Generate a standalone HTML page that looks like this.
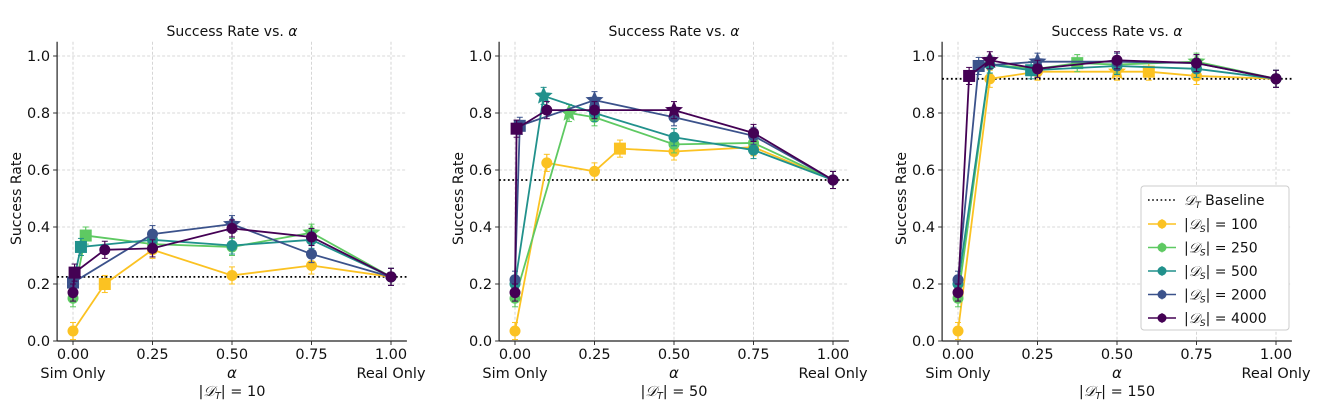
<!DOCTYPE html>
<html><head><meta charset="utf-8"><style>
body{margin:0;background:#fff;width:1324px;height:407px;overflow:hidden}
svg text{font-family:"DejaVu Sans","Liberation Sans",sans-serif;fill:#111}
</style></head><body>
<svg id="c" width="1324" height="407"></svg>
<script>
const seriesNames = ["|D_S|=100","|D_S|=250","|D_S|=500","|D_S|=2000","|D_S|=4000"];
const seriesSizes = ["100","250","500","2000","4000"];
const colors = ["#fbc222","#5ec962","#21918c","#3b528b","#440154"];
const panelTitles = ["10","50","150"];
const baselines = [0.225, 0.565, 0.92];
const xTicks = [0,0.25,0.5,0.75,1];
const yTicks = [0,0.2,0.4,0.6,0.8,1.0];
// panel 1 [x, y, marker]
const p1 = [
 [[0,.035,"o"],[0.1,.20,"s"],[0.25,.32,"o"],[0.5,.23,"o"],[0.75,.265,"o"],[1,.225,"o"]],
 [[0,.15,"o"],[0.04,.37,"s"],[0.25,.34,"o"],[0.5,.33,"o"],[0.75,.38,"*"],[1,.225,"o"]],
 [[0,.20,"o"],[0.025,.33,"s"],[0.25,.355,"o"],[0.5,.335,"o"],[0.75,.355,"o"],[1,.225,"o"]],
 [[0,.205,"s"],[0.25,.375,"o"],[0.5,.41,"*"],[0.75,.305,"o"],[1,.225,"o"]],
 [[0,.17,"o"],[0.005,.24,"s"],[0.1,.32,"o"],[0.25,.325,"o"],[0.5,.395,"o"],[0.75,.365,"o"],[1,.225,"o"]]
];
const p2 = [
 [[0,.035,"o"],[0.1,.625,"o"],[0.25,.595,"o"],[0.33,.675,"s"],[0.5,.665,"o"],[0.75,.68,"o"],[1,.565,"o"]],
 [[0,.15,"o"],[0.17,.80,"*"],[0.25,.785,"o"],[0.5,.69,"o"],[0.75,.695,"o"],[1,.565,"o"]],
 [[0,.20,"o"],[0.09,.86,"*"],[0.25,.80,"o"],[0.5,.715,"o"],[0.75,.67,"o"],[1,.565,"o"]],
 [[0,.215,"o"],[0.015,.755,"s"],[0.25,.845,"*"],[0.5,.785,"o"],[0.75,.72,"o"],[1,.565,"o"]],
 [[0,.17,"o"],[0.005,.745,"s"],[0.1,.81,"o"],[0.25,.81,"o"],[0.5,.81,"*"],[0.75,.73,"o"],[1,.565,"o"]]
];
const p3 = [
 [[0,.035,"o"],[0.1,.92,"o"],[0.25,.945,"o"],[0.5,.945,"*"],[0.6,.945,"s"],[0.75,.93,"o"],[1,.92,"o"]],
 [[0,.15,"o"],[0.1,.97,"o"],[0.25,.955,"o"],[0.375,.975,"s"],[0.5,.97,"o"],[0.75,.98,"*"],[1,.92,"o"]],
 [[0,.20,"o"],[0.1,.97,"o"],[0.23,.95,"s"],[0.5,.965,"o"],[0.75,.955,"o"],[1,.92,"o"]],
 [[0,.215,"o"],[0.065,.965,"s"],[0.25,.98,"*"],[0.5,.98,"o"],[0.75,.975,"o"],[1,.92,"o"]],
 [[0,.17,"o"],[0.035,.93,"s"],[0.1,.985,"*"],[0.25,.955,"o"],[0.5,.985,"o"],[0.75,.975,"o"],[1,.92,"o"]]
];
const panelData = [p1,p2,p3];
const errBar = 0.03;

const NS="http://www.w3.org/2000/svg";
const svg=document.getElementById("c");
function mk(tag,attrs,parent){const e=document.createElementNS(NS,tag);for(const k in attrs)e.setAttribute(k,attrs[k]);(parent||svg).appendChild(e);return e;}
const x0s=[73,515,958];
const XS=318, YS=285, Y0=341;
function starPts(cx,cy,r){let p=[];for(let i=0;i<10;i++){const a=-Math.PI/2+i*Math.PI/5;const rr=i%2?r*0.45:r;p.push((cx+rr*Math.cos(a)).toFixed(1)+","+(cy+rr*Math.sin(a)).toFixed(1));}return p.join(" ");}
function marker(g,t,cx,cy,col){
  let e;
  if(t==="s") e=mk("rect",{x:cx-6,y:cy-6,width:12,height:12,fill:col},g);
  else if(t==="*") e=mk("polygon",{points:starPts(cx,cy,9.5),fill:col},g);
  else e=mk("circle",{cx:cx,cy:cy,r:5.5,fill:col},g);
  
  
}
panelData.forEach((pd,pi)=>{
  const X0=x0s[pi];
  const xs=v=>X0+v*XS, ys=v=>Y0-v*YS;
  const g=mk("g",{});
  
  
  xTicks.forEach(t=>{const l=mk("line",{x1:xs(t),x2:xs(t),y1:ys(1.05),y2:Y0+3,stroke:"#ccc","stroke-dasharray":"3,2","stroke-width":0.8},g);
    
    const tx=mk("text",{x:xs(t),y:359,"text-anchor":"middle","font-size":14.5},g);tx.textContent=t.toFixed(2);
    
    mk("line",{x1:xs(t),x2:xs(t),y1:Y0,y2:Y0+4,stroke:"#333"},g);});
  yTicks.forEach(t=>{const l=mk("line",{x1:xs(-0.05),x2:xs(1.05),y1:ys(t),y2:ys(t),stroke:"#ccc","stroke-dasharray":"3,2","stroke-width":0.8},g);
    
    const tx=mk("text",{x:xs(-0.05)-7,y:ys(t)+5,"text-anchor":"end","font-size":14.5},g);tx.textContent=t.toFixed(1);
    
    mk("line",{x1:xs(-0.05)-4,x2:xs(-0.05),y1:ys(t),y2:ys(t),stroke:"#333"},g);});
  mk("line",{x1:xs(-0.05),x2:xs(-0.05),y1:ys(1.05),y2:Y0,stroke:"#222","stroke-width":1.2},g);
  mk("line",{x1:xs(-0.05),x2:xs(1.05),y1:Y0,y2:Y0,stroke:"#222","stroke-width":1.2},g);
  const bl=mk("line",{x1:xs(-0.05),x2:xs(1.05),y1:ys(baselines[pi]),y2:ys(baselines[pi]),stroke:"#000","stroke-width":1.8,"stroke-dasharray":"1.8,2.6"},g);
  
  pd.forEach((s,si)=>{
    const col=colors[si];
    const sg=mk("g",{},g);
    
    
    mk("polyline",{points:s.map(p=>xs(p[0])+","+ys(p[1])).join(" "),fill:"none",stroke:col,"stroke-width":1.8},sg);
    s.forEach(p=>{const cx=xs(p[0]),cy=ys(p[1]);
      mk("line",{x1:cx,x2:cx,y1:ys(p[1]+errBar),y2:ys(p[1]-errBar),stroke:col,"stroke-width":1.2},sg);
      mk("line",{x1:cx-3,x2:cx+3,y1:ys(p[1]+errBar),y2:ys(p[1]+errBar),stroke:col},sg);
      mk("line",{x1:cx-3,x2:cx+3,y1:ys(p[1]-errBar),y2:ys(p[1]-errBar),stroke:col},sg);
      marker(sg,p[2],cx,cy,col);});
  });
  const t=mk("text",{x:xs(0.5),y:36,"text-anchor":"middle","font-size":14},g);
  t.innerHTML='Success Rate vs. <tspan font-style="italic">α</tspan>';
  
  const so=mk("text",{x:xs(0),y:378,"text-anchor":"middle","font-size":14.5},g);so.textContent="Sim Only";
  
  const ro=mk("text",{x:xs(1),y:378,"text-anchor":"middle","font-size":14.5},g);ro.textContent="Real Only";
  
  const al=mk("text",{x:xs(0.5),y:378,"text-anchor":"middle","font-size":15,"font-style":"italic"},g);al.textContent="α";
  
  const dl=mk("text",{x:xs(0.5),y:396,"text-anchor":"middle","font-size":14.5},g);
  dl.innerHTML='|<tspan font-style="italic" font-family="Liberation Serif">𝒟</tspan><tspan font-size="9.5" dy="3" font-style="italic">T</tspan><tspan dy="-3">| = '+panelTitles[pi]+'</tspan>';
  
  const yl=mk("text",{x:0,y:0,"text-anchor":"middle","font-size":14,transform:"translate("+(X0-52)+","+ys(0.5)+") rotate(-90)"},g);yl.textContent="Success Rate";
  
});
const lg=mk("g",{});


mk("rect",{x:1141,y:186,width:148,height:144,rx:3,fill:"#fff",stroke:"#ccc"},lg);
const e0=mk("g",{},lg);


mk("line",{x1:1148,x2:1176,y1:200,y2:200,stroke:"#000","stroke-width":1.6,"stroke-dasharray":"1.6,2.6"},e0);
const bt=mk("text",{x:1184,y:205,"font-size":14},e0);
bt.innerHTML='<tspan font-style="italic" font-family="Liberation Serif">𝒟</tspan><tspan font-size="9" dy="3" font-style="italic">T</tspan><tspan dy="-3"> Baseline</tspan>';
seriesSizes.forEach((s,i)=>{
  const y=224+i*23.5;
  const e=mk("g",{},lg);
  
  
  mk("line",{x1:1148,x2:1176,y1:y,y2:y,stroke:colors[i],"stroke-width":1.6},e);
  mk("line",{x1:1162,x2:1162,y1:y-5,y2:y+5,stroke:colors[i]},e);
  mk("circle",{cx:1162,cy:y,r:4.5,fill:colors[i]},e);
  const t=mk("text",{x:1184,y:y+5,"font-size":14},e);
  t.innerHTML='|<tspan font-style="italic" font-family="Liberation Serif">𝒟</tspan><tspan font-size="9" dy="3" font-style="italic">S</tspan><tspan dy="-3">| = '+s+'</tspan>';
});
</script>
</body></html>
